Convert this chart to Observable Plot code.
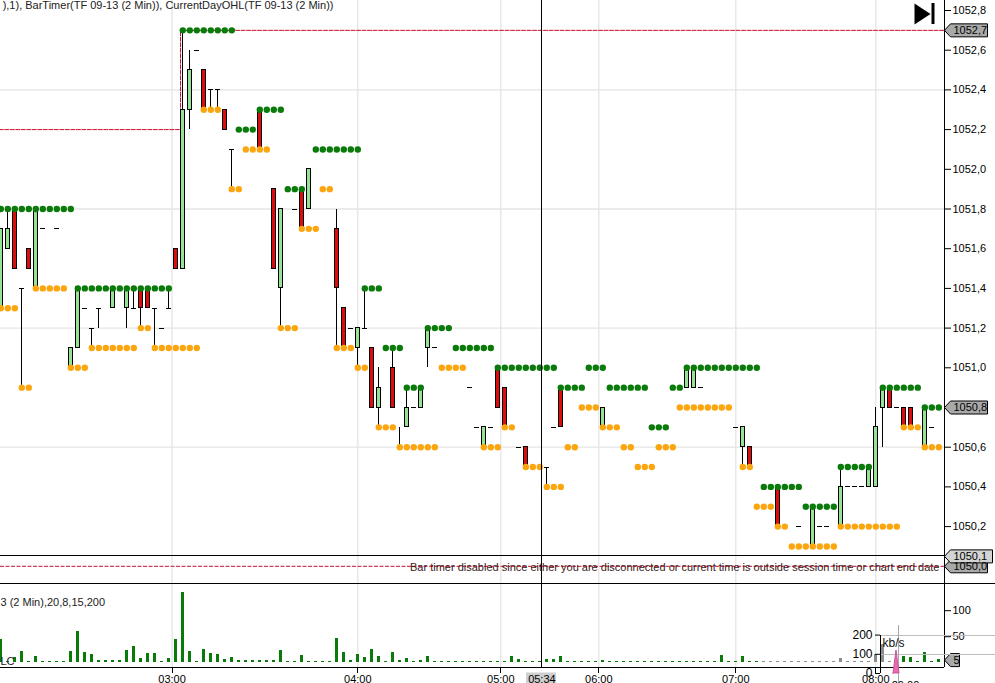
<!DOCTYPE html>
<html><head><meta charset="utf-8">
<script src="https://cdn.jsdelivr.net/npm/d3@7"></script>
<script src="https://cdn.jsdelivr.net/npm/@observablehq/plot@0.6"></script>
<style>
html,body{margin:0;padding:0;background:#fff;overflow:hidden}
#wrap{position:relative;width:995px;height:683px;overflow:hidden}
#wrap svg{display:block}
#inset{position:absolute;left:850px;top:620px}
</style></head><body><div id="wrap"><div id="price"></div><div id="vol"></div><div id="inset"></div></div>
<script>
// bars: [index, open, high, low, close]
const bars = [
[0,1051.3,1051.7,1051.3,1051.7],[1,1051.6,1051.8,1051.6,1051.7],[2,1051.8,1051.8,1051.5,1051.5],[3,1051.4,1051.4,1050.9,1051.4],
[4,1051.6,1051.6,1051.5,1051.5],[5,1051.4,1051.8,1051.4,1051.8],[6,1051.7,1051.7,1051.7,1051.7],[8,1051.7,1051.7,1051.7,1051.7],
[10,1051.0,1051.1,1051.0,1051.1],[11,1051.1,1051.4,1051.1,1051.4],[12,1051.3,1051.3,1051.3,1051.3],[13,1051.2,1051.2,1051.1,1051.2],
[14,1051.3,1051.3,1051.2,1051.3],[16,1051.3,1051.4,1051.3,1051.4],[18,1051.3,1051.4,1051.2,1051.4],[19,1051.3,1051.4,1051.3,1051.3],
[20,1051.4,1051.4,1051.2,1051.3],[21,1051.4,1051.4,1051.3,1051.3],[22,1051.3,1051.3,1051.1,1051.3],[23,1051.2,1051.2,1051.2,1051.2],
[24,1051.3,1051.4,1051.3,1051.3],[25,1051.6,1051.6,1051.5,1051.5],[26,1051.5,1052.7,1051.5,1052.3],[27,1052.3,1052.6,1052.2,1052.5],
[28,1052.6,1052.6,1052.6,1052.6],[29,1052.5,1052.5,1052.3,1052.3],[30,1052.4,1052.4,1052.3,1052.4],[31,1052.4,1052.4,1052.3,1052.4],
[32,1052.3,1052.3,1052.2,1052.2],[33,1052.1,1052.1,1051.9,1052.1],[37,1052.3,1052.3,1052.1,1052.1],[39,1051.9,1051.9,1051.5,1051.5],
[40,1051.4,1051.8,1051.2,1051.8],[42,1051.8,1051.8,1051.8,1051.8],[43,1051.9,1051.9,1051.7,1051.7],[44,1051.8,1052.0,1051.8,1052.0],
[48,1051.7,1051.8,1051.1,1051.4],[49,1051.3,1051.3,1051.1,1051.1],[50,1051.2,1051.2,1051.2,1051.2],[51,1051.1,1051.2,1051.0,1051.2],
[52,1051.2,1051.4,1051.2,1051.2],[53,1051.1,1051.1,1050.8,1050.8],[54,1050.8,1051.0,1050.7,1050.9],[56,1051.0,1051.1,1050.8,1050.8],
[57,1050.7,1050.7,1050.6,1050.7],[58,1050.7,1050.9,1050.7,1050.8],[59,1050.8,1050.8,1050.8,1050.8],[60,1050.8,1050.9,1050.8,1050.9],
[61,1051.1,1051.2,1051.0,1051.2],[62,1051.1,1051.1,1051.1,1051.1],[67,1050.9,1050.9,1050.9,1050.9],[68,1050.7,1050.7,1050.7,1050.7],
[69,1050.6,1050.7,1050.6,1050.7],[70,1050.7,1050.7,1050.7,1050.7],[71,1051.0,1051.0,1050.8,1050.8],[72,1050.9,1050.9,1050.7,1050.7],
[74,1050.6,1050.6,1050.6,1050.6],[75,1050.6,1050.6,1050.5,1050.5],[78,1050.5,1050.5,1050.4,1050.5],[79,1050.7,1050.7,1050.7,1050.7],
[80,1050.9,1050.9,1050.7,1050.7],[86,1050.7,1050.8,1050.7,1050.8],[98,1050.9,1051.0,1050.9,1051.0],[99,1050.9,1051.0,1050.9,1051.0],
[100,1050.9,1050.9,1050.9,1050.9],[105,1050.7,1050.7,1050.7,1050.7],[106,1050.6,1050.7,1050.5,1050.7],[107,1050.6,1050.6,1050.5,1050.5],
[111,1050.4,1050.4,1050.2,1050.2],[114,1050.2,1050.2,1050.2,1050.2],[116,1050.1,1050.3,1050.1,1050.3],[117,1050.2,1050.2,1050.2,1050.2],
[118,1050.2,1050.2,1050.2,1050.2],[120,1050.2,1050.5,1050.2,1050.4],[121,1050.4,1050.4,1050.4,1050.4],[122,1050.4,1050.4,1050.4,1050.4],
[123,1050.4,1050.4,1050.4,1050.4],[124,1050.4,1050.5,1050.4,1050.5],[125,1050.4,1050.8,1050.4,1050.7],[126,1050.8,1050.9,1050.6,1050.9],
[127,1050.9,1050.9,1050.8,1050.8],[128,1050.8,1050.8,1050.8,1050.8],[129,1050.8,1050.8,1050.7,1050.7],[130,1050.8,1050.8,1050.7,1050.7],
[132,1050.6,1050.8,1050.6,1050.8],[133,1050.7,1050.7,1050.7,1050.7]
];
// dot runs: [price, first bar, last bar]
const greenRuns = [[1051.8,0,10],[1051.4,11,24],[1052.7,26,33],[1052.2,34,36],[1052.3,37,40],[1051.9,41,43],[1052.1,45,51],[1051.4,52,54],[1051.1,55,57],[1050.9,58,60],[1051.2,61,64],[1051.1,65,70],[1051.0,71,79],[1050.9,80,83],[1051.0,84,86],[1050.9,87,92],[1050.7,93,95],[1050.9,96,97],[1051.0,98,108],[1050.4,109,114],[1050.3,115,119],[1050.5,120,124],[1050.9,126,131],[1050.8,132,134]];
const orangeRuns = [[1051.3,0,2],[1050.9,3,4],[1051.4,5,9],[1051.0,10,12],[1051.1,13,19],[1051.2,20,21],[1051.1,22,28],[1052.3,29,31],[1051.9,33,34],[1052.1,35,38],[1051.2,40,42],[1051.7,43,45],[1051.9,46,47],[1051.1,48,50],[1051.0,51,52],[1050.7,54,56],[1050.6,57,62],[1051.0,63,66],[1050.6,69,71],[1050.7,72,73],[1050.5,75,77],[1050.4,78,80],[1050.6,81,82],[1050.8,83,85],[1050.7,86,88],[1050.6,89,90],[1050.5,91,93],[1050.6,94,96],[1050.8,97,104],[1050.5,106,107],[1050.3,108,110],[1050.2,111,112],[1050.1,113,119],[1050.2,120,128],[1050.7,129,131],[1050.6,132,134]];
const volumes = [44,2,10,22,2,12,3,3,3,3,22,60,20,16,5,4,4,4,24,31,8,18,18,2,8,45,135,22,2,26,18,16,7,10,4,4,4,4,4,4,24,2,2,14,3,3,3,3,47,20,4,16,10,26,12,2,20,4,8,2,4,12,3,3,3,3,3,3,3,3,3,3,3,12,6,3,3,3,6,6,12,3,3,3,3,3,5,3,3,3,3,3,3,3,3,3,3,3,3,3,3,3,3,14,3,3,12,3,3,3,3,3,3,3,3,3,3,3,3,3,8,3,3,3,3,16,35,3,3,12,10,3,20,3,7];
const mutedBars = [109,127];
const ohlLine = [[-1,1052.2],[25.67,1052.2],[25.67,1052.7],[134.81,1052.7]];
const lowLine = 1050.0;
const priceTicks = [1052.8,1052.6,1052.4,1052.2,1052.0,1051.8,1051.6,1051.4,1051.2,1051.0,1050.8,1050.6,1050.4,1050.2];
const priceGrid = [1052.4,1051.8,1051.2,1050.6];
const hourBars = [24.47,51,71.43,85.43,105,125];
const hourLabels = ["03:00","04:00","05:00","06:00","07:00","08:00"];
const cursorBar = 77.3, cursorLabel = "05:34";
const volTicks = [50,100];
const kbSeconds = [13,16,19], kbValues = [0,120,0];
const kbTicks = [0,100,200];
const priceTags = [
 {p:1052.7,t:"1052,7",fill:"#a9a9a9",w:43},
 {p:1050.8,t:"1050,8",fill:"#a9a9a9",w:43},
 {p:1050.0,t:"1050,0",fill:"#a9a9a9",w:43},
 {p:1050.05,t:"1050,1",fill:"#d4d4d4",w:48}
];
const titleText = "),1), BarTimer(TF 09-13 (2 Min)), CurrentDayOHL(TF 09-13 (2 Min))";
const timerText = "Bar timer disabled since either you are disconnected or current time is outside session time or chart end date";
const volText = "3 (2 Min),20,8,15,200";

const FONT = "'Liberation Sans',Arial,sans-serif";
const expand = runs => runs.flatMap(([p,a,b]) => d3.range(a,b+1).map(k => ({k,p})));
const rows = bars.map(([k,o,h,l,c]) => ({k,o,h,l,c}));
const axisBar = (944-0.3)/7, rightBar = (995-0.3)/7, xDomain = [(0-0.3)/7, axisBar];
const comma = d => d.toFixed(1).replace(".",",");
const tag = w => ({draw(c){c.moveTo(0,0);c.lineTo(6,-6.5);c.lineTo(w,-6.5);c.lineTo(w,6.5);c.lineTo(6,6.5);c.closePath();}});
const pY = px => 1052.8-(px-10)/198.5;
const pX = px => (px-0.3)/7;
const style = {fontFamily:FONT,fontSize:"11px",background:"transparent",color:"#000"};
const GRID="#e4e4e4";
const crisp = {shapeRendering:"crispEdges"};

const price = Plot.plot({
  width:995,height:584,marginTop:0,marginBottom:0,marginLeft:0,marginRight:51,style,
  x:{domain:xDomain,axis:null},
  y:{domain:[pY(584),pY(0)],axis:null},
  marks:[
    Plot.ruleY(priceGrid,{stroke:GRID,strokeWidth:1.3}),
    Plot.ruleX(hourBars,{stroke:GRID,strokeWidth:1.3}),
    Plot.line(ohlLine,{x:d=>d[0],y:d=>d[1],stroke:"#c8102e",strokeWidth:1,strokeDasharray:"4,1.5"}),
    Plot.ruleY([lowLine],{x1:xDomain[0],x2:axisBar,stroke:"#c8102e",strokeWidth:1,strokeDasharray:"4,1.5"}),
    Plot.ruleX(rows.filter(d=>d.h>d.l),{x:"k",y1:"l",y2:"h",stroke:"#000",strokeWidth:1,...crisp}),
    Plot.ruleY(rows.filter(d=>d.o===d.c && d.k!==57),{y:"c",x1:d=>d.k-0.36,x2:d=>d.k+0.36,stroke:"#000",strokeWidth:1,...crisp}),
    Plot.rect(rows.filter(d=>d.o!==d.c),{x1:d=>d.k-0.31,x2:d=>d.k+0.31,y1:"o",y2:"c",
      fill:d=>d.c>d.o?"#96e396":"#dd0d0d",stroke:"#000",strokeWidth:1,...crisp}),
    Plot.dot(expand(greenRuns),{x:"k",y:"p",r:3.2,fill:"#0a7a0a"}),
    Plot.dot(expand(orangeRuns),{x:"k",y:"p",r:3.2,fill:"#fba60f"}),
    Plot.ruleX([cursorBar],{stroke:"#000",strokeWidth:1,...crisp}),
    Plot.ruleY([pY(555.3)],{x1:xDomain[0],x2:axisBar,stroke:"#000",strokeWidth:1,...crisp}),
    Plot.ruleY([pY(583)],{x1:xDomain[0],x2:rightBar,stroke:"#000",strokeWidth:1,...crisp}),
    Plot.ruleX([axisBar],{stroke:"#000",strokeWidth:1,...crisp}),
    Plot.axisY(priceTicks,{anchor:"right",tickSize:6,tickPadding:2,tickFormat:comma,fontSize:11,label:null}),
    Plot.text([timerText],{x:pX(939),y:lowLine,text:d=>d,textAnchor:"end",fill:"#3a2020",dy:1,fontSize:11}),
    Plot.text([titleText],{x:pX(333),y:pY(5),text:d=>d,textAnchor:"end",fill:"#222",fontSize:11}),
    ...priceTags.map(t=>Plot.dot([t],{x:axisBar,y:"p",r:6,fill:t.fill,stroke:"#000",strokeWidth:1,symbol:tag(t.w)})),
    Plot.text(priceTags,{x:axisBar,y:"p",text:"t",dx:9,textAnchor:"start",fill:"#000",fontSize:11}),
    Plot.dot([0],{x:pX(914),y:pY(13.5),r:6,fill:"#000",symbol:{draw(c){c.moveTo(0,-10.5);c.lineTo(16,0);c.lineTo(0,10.5);c.closePath();}}}),
    Plot.ruleX([pX(932.5)],{y1:pY(3),y2:pY(24),stroke:"#000",strokeWidth:3})
  ]
});
document.getElementById("price").appendChild(price);

const vols = volumes.map((v,k)=>({k,v}));
const vY = px => (662.2-584-px)/0.52;
const muted = d => d.k>=mutedBars[0] && d.k<=mutedBars[1];
const vol = Plot.plot({
  width:995,height:99,marginTop:0,marginBottom:15.7,marginLeft:0,marginRight:51,style,
  x:{domain:xDomain,axis:null},
  y:{domain:[vY(83.3),vY(0)],axis:null},
  marks:[
    Plot.ruleX(hourBars,{stroke:GRID,strokeWidth:1.3}),
    Plot.rect([0],{x1:pX(526),x2:pX(556),y1:vY(88.5),y2:vY(99),fill:"#cfcfcf"}),
    Plot.ruleX(vols.filter(d=>!muted(d)),{x:"k",y1:0,y2:"v",stroke:"#0a7a0a",strokeWidth:3,...crisp}),
    Plot.ruleX(vols.filter(muted),{x:"k",y1:0,y2:"v",stroke:"#8c8c8c",strokeWidth:3,...crisp}),
    Plot.ruleX([cursorBar],{y1:vY(0),y2:vY(83.3),stroke:"#000",strokeWidth:1,...crisp}),
    Plot.ruleY([vY(83.3)],{x1:xDomain[0],x2:axisBar,stroke:"#000",strokeWidth:1,...crisp}),
    Plot.ruleX([axisBar],{y1:vY(0),y2:vY(83.3),stroke:"#000",strokeWidth:1,...crisp}),
    Plot.axisY(volTicks,{anchor:"right",tickSize:6,tickPadding:2,fontSize:11,label:null}),
    Plot.axisX([...hourBars,cursorBar],{anchor:"bottom",tickSize:0,tickPadding:7,fontSize:11,label:null,
      tickFormat:d=>d===cursorBar?cursorLabel:hourLabels[hourBars.indexOf(d)]}),
    Plot.ruleX(hourBars,{y1:vY(83.3),y2:vY(89),stroke:"#000",strokeWidth:1,...crisp}),
    Plot.dot([{v:5}],{x:axisBar,y:"v",r:6,fill:"#a9a9a9",stroke:"#000",strokeWidth:1,symbol:tag(15)}),
    Plot.text([{v:5}],{x:axisBar,y:"v",text:"v",dx:9,textAnchor:"start",fill:"#000",fontSize:11}),
    Plot.text([volText],{x:xDomain[0],y:vY(17.7),text:d=>d,textAnchor:"start",fill:"#222",fontSize:11}),
    Plot.text(["LC"],{x:pX(0),y:vY(77),text:d=>d,textAnchor:"start",fill:"#222",fontSize:11})
  ]
});
document.getElementById("vol").appendChild(vol);

const inset = Plot.plot({
  width:145,height:63,marginTop:0,marginBottom:10,marginLeft:30,marginRight:0,style,
  x:{domain:[0,115],axis:null},
  y:{domain:[0,276],axis:null},
  marks:[
    Plot.ruleY([100,200],{stroke:"#bdbdbd",strokeWidth:1,...crisp}),
    Plot.ruleX([18],{stroke:"#a8a8a8",strokeWidth:1,y1:-52,y2:250,...crisp}),
    Plot.areaY(kbSeconds.map((s,i)=>({s,v:kbValues[i]})),{x:"s",y:"v",fill:"#e86ab2",stroke:"#c9589a",strokeWidth:1}),
    Plot.ruleX([0],{y1:0,y2:200,stroke:"#000",strokeWidth:1,...crisp}),
    Plot.axisY(kbTicks,{anchor:"left",tickSize:5,tickPadding:3,fontSize:12,label:null}),
    Plot.text(["kb/s"],{x:2,y:156,text:d=>d,textAnchor:"start",fill:"#111",fontSize:12}),
    Plot.text(["20:00"],{x:25,y:-62,text:d=>d,textAnchor:"middle",fill:"#000",fontSize:11})
  ]
});
document.getElementById("inset").appendChild(inset);
</script></body></html>
